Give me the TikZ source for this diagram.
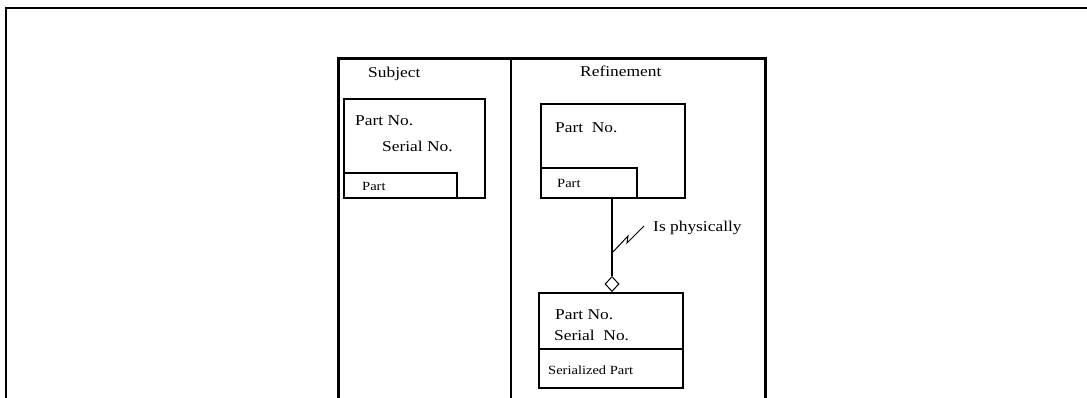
\documentclass[tikz,border=0pt]{standalone}
\usepackage{fontspec}
\setmainfont[FakeStretch=1.16]{Liberation Serif}
\usetikzlibrary{shapes.geometric}
\tikzset{
  frame/.style={line width=2pt},
  panel/.style={line width=3pt},
  divider/.style={line width=2pt},
  box/.style={draw, line width=2pt, anchor=north west, inner sep=0pt},
  conn/.style={line width=2pt},
  dia/.style={draw, diamond, line width=1pt, inner sep=0pt, minimum width=14pt, minimum height=15pt, fill=white},
  big/.style={anchor=base west, inner sep=0pt, font=\fontsize{15}{18}\selectfont},
  small/.style={anchor=base west, inner sep=0pt, font=\fontsize{12.5}{15}\selectfont},
}
\begin{document}
\begin{tikzpicture}[x=1pt, y=-1pt]
\useasboundingbox (0,0) rectangle (1087,398);
% outer frame
\draw[frame] (6,398) -- (6,8) -- (1088,8);
% panel
\draw[panel] (338,399) -- (338,58.5) -- (765,58.5) -- (765,399);
\draw[divider] (511,60) -- (511,399);
% headings
\node[big] (subj) at (368,78) {Subject};
\node[big] (refi) at (580,77) {Refinement};
% subject box
\node[box, minimum width=141pt, minimum height=99pt] (sbox) at (343,98) {};
\node[box, minimum width=113pt, minimum height=25pt] (stab) at (343,172) {};
\node[big] (s1) at (355,126) {Part No.};
\node[big] (s2) at (382,152) {Serial No.};
\node[small] (s3) at (362,191) {Part};
% refinement top box
\node[box, minimum width=144pt, minimum height=94pt] (rbox) at (540,103) {};
\node[box, minimum width=96pt, minimum height=30pt] (rtab) at (540,167) {};
\node[big] (r1) at (555,133) {Part~~No.};
\node[small] (r2) at (557,188) {Part};
% serialized part box
\node[box, minimum width=144pt, minimum height=56pt] (sp) at (538,292) {};
\node[box, minimum width=144pt, minimum height=39pt] (spl) at (538,348) {};
\node[big] (p1) at (555,319) {Part No.};
\node[big] (p2) at (554,340) {Serial~~No.};
\node[small] (p3) at (548,374) {Serialized Part};
% connector
\coordinate (cx) at (612,0);
\node[dia, anchor=south] (dm) at (cx |- sp.north) {};
\draw[conn] (cx |- rtab.south) -- (dm.north);
\coordinate (z0) at (612,253);
\coordinate (z1) at (628,236);
\coordinate (z2) at (627,243);
\coordinate (z3) at (644,226);
\draw[line width=1pt] (z0) -- (z1) -- (z2) -- (z3);
\node[big] (isp) at (653,232) {Is physically};
\end{tikzpicture}
\end{document}
